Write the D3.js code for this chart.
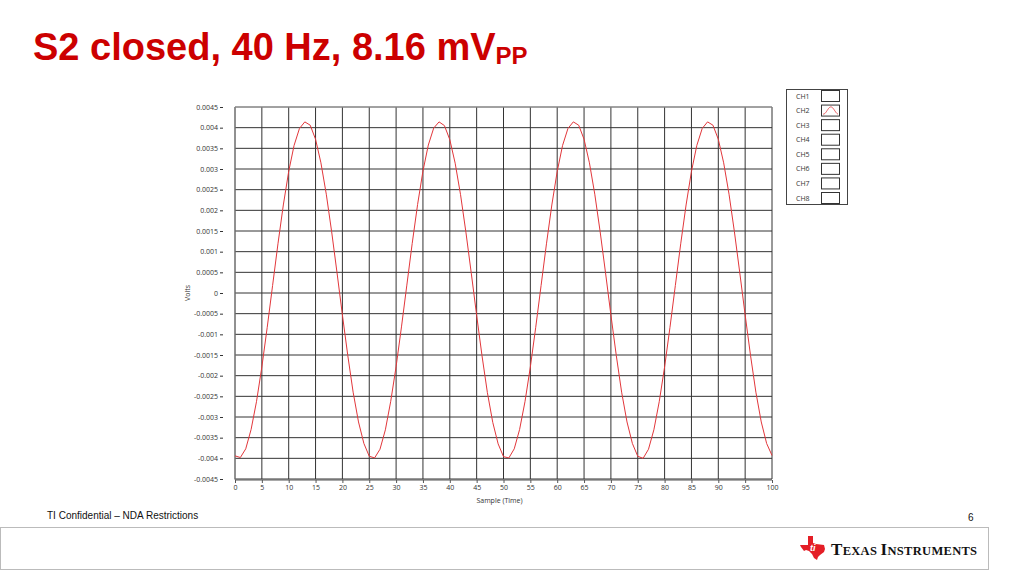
<!DOCTYPE html>
<html><head><meta charset="utf-8">
<script src="https://cdn.jsdelivr.net/npm/d3@7/dist/d3.min.js"></script>
<style>
html,body{margin:0;padding:0;background:#fff;}
svg{display:block;}
</style></head>
<body>
<svg id="c" width="1024" height="576"></svg>
<script>
// ---- data ----
const samples = d3.range(0, 101);
const ch2Volts = [
 -0.00394,-0.00398,-0.00377,-0.00330,-0.00263,-0.00179,-0.00083,0.00018,0.00119,0.00213,
  0.00294,0.00357,0.00398,0.00414,0.00406,0.00372,0.00315,0.00239,0.00148,0.00049,
 -0.00053,-0.00151,-0.00240,-0.00312,-0.00364,
 -0.00395,-0.00399,-0.00378,-0.00331,-0.00262,-0.00178,-0.00082,0.00019,0.00120,0.00214,
  0.00295,0.00358,0.00399,0.00414,0.00405,0.00371,0.00314,0.00238,0.00147,0.00048,
 -0.00054,-0.00152,-0.00241,-0.00313,-0.00365,
 -0.00396,-0.00399,-0.00377,-0.00330,-0.00263,-0.00179,-0.00083,0.00018,0.00119,0.00213,
  0.00294,0.00357,0.00398,0.00414,0.00406,0.00372,0.00315,0.00239,0.00148,0.00049,
 -0.00053,-0.00151,-0.00240,-0.00312,-0.00364,
 -0.00395,-0.00400,-0.00378,-0.00331,-0.00263,-0.00179,-0.00083,0.00018,0.00119,0.00213,
  0.00294,0.00357,0.00398,0.00414,0.00406,0.00372,0.00315,0.00239,0.00148,0.00049,
 -0.00053,-0.00151,-0.00240,-0.00312,-0.00364,
 -0.00393
];
const yTicks = [0.0045,0.004,0.0035,0.003,0.0025,0.002,0.0015,0.001,0.0005,0,-0.0005,-0.001,-0.0015,-0.002,-0.0025,-0.003,-0.0035,-0.004,-0.0045];
const yTickLabels = ["0.0045","0.004","0.0035","0.003","0.0025","0.002","0.0015","0.001","0.0005","0","-0.0005","-0.001","-0.0015","-0.002","-0.0025","-0.003","-0.0035","-0.004","-0.0045"];
const xTicks = d3.range(0, 101, 5);
const legendChannels = ["CH1","CH2","CH3","CH4","CH5","CH6","CH7","CH8"];
const activeChannel = "CH2";

// ---- drawing ----
const svg = d3.select("#c");
const L = 235, R = 772, T = 107, B = 479;
const x = d3.scaleLinear().domain([0, 100]).range([L, R]);
const y = d3.scaleLinear().domain([-0.0045, 0.0045]).range([B, T]);
const font = "'Open Sans', 'Noto Sans', sans-serif";

// title
const title = svg.append("text").attr("x", 33).attr("y", 60)
  .attr("font-family", "'Liberation Sans', Arial, sans-serif").attr("font-weight", "bold")
  .attr("font-size", 38).attr("fill", "#cc0000");
title.append("tspan").text("S2 closed, 40 Hz, 8.16 mV");
title.append("tspan").attr("font-size", 24).attr("dy", 4).text("PP");

// grid
const grid = svg.append("g");
grid.selectAll("line.h").data(yTicks).join("line").attr("class","h")
  .attr("x1", L).attr("x2", R).attr("y1", d => y(d)).attr("y2", d => y(d))
  .attr("stroke", "#333").attr("stroke-width", 1);
grid.selectAll("line.v").data(xTicks).join("line").attr("class","v")
  .attr("y1", T).attr("y2", B).attr("x1", d => x(d)).attr("x2", d => x(d))
  .attr("stroke", "#333").attr("stroke-width", 1);
// frame edges lighter
svg.append("line").attr("x1", L).attr("x2", R).attr("y1", T).attr("y2", T).attr("stroke", "#aaa");
svg.append("line").attr("x1", L).attr("x2", L).attr("y1", T).attr("y2", B+1).attr("stroke", "#888");
svg.append("line").attr("x1", L).attr("x2", R).attr("y1", B+1).attr("y2", B+1).attr("stroke", "#555");

// y axis labels via d3 axis
const yAxis = d3.axisLeft(y).tickValues(yTicks).tickFormat((d, i) => yTickLabels[i]).tickSize(3).tickPadding(2);
const gy = svg.append("g").attr("transform", `translate(${L-12},0)`).call(yAxis);
gy.select(".domain").remove();
gy.selectAll("text").attr("font-family", font).attr("font-size", 7).attr("fill", "#333");
gy.selectAll("line").attr("stroke", "#333");

const xAxis = d3.axisBottom(x).tickValues(xTicks).tickSize(3).tickPadding(2);
const gx = svg.append("g").attr("transform", `translate(0,${B+1})`).call(xAxis);
gx.select(".domain").remove();
gx.selectAll("text").attr("font-family", font).attr("font-size", 7).attr("fill", "#333");
gx.selectAll("line").attr("stroke", "#555");

// axis titles
svg.append("text").attr("transform", `translate(190,${y(0)}) rotate(-90)`).attr("text-anchor","middle")
  .attr("font-family", font).attr("font-size", 7).attr("fill", "#333").text("Volts");
svg.append("text").attr("x", x(50)-4).attr("y", 503).attr("text-anchor","middle")
  .attr("font-family", font).attr("font-size", 7).attr("fill", "#333").text("Sample (Time)");

// data line
const line = d3.line().x((d, i) => x(samples[i])).y(d => y(d));
svg.append("path").datum(ch2Volts).attr("d", line).attr("fill", "none")
  .attr("stroke", "#e2373b").attr("stroke-width", 1);

// legend
const lg = svg.append("g");
lg.append("rect").attr("x", 786.5).attr("y", 89.5).attr("width", 61).attr("height", 115)
  .attr("fill", "#fff").attr("stroke", "#444");
const ly = d3.scalePoint().domain(legendChannels).range([96, 198]);
legendChannels.forEach(ch => {
  lg.append("text").attr("x", 796).attr("y", ly(ch) + 2.5).attr("font-family", font)
    .attr("font-size", 7).attr("fill", "#333").text(ch);
  lg.append("rect").attr("x", 821.5).attr("y", ly(ch) - 5.5).attr("width", 18).attr("height", 11)
    .attr("fill", "#fff").attr("stroke", "#333");
  if (ch === activeChannel) {
    const sx = d3.scaleLinear().domain([0, 25]).range([823, 838]);
    const sy = d3.scaleLinear().domain([-0.0045, 0.0045]).range([ly(ch)+4, ly(ch)-4]);
    lg.append("path").datum(ch2Volts.slice(0, 26))
      .attr("d", d3.line().x((d, i) => sx(i)).y(d => sy(d)))
      .attr("fill", "none").attr("stroke", "#e2373b").attr("stroke-width", 0.8);
  }
});

// footer
svg.append("text").attr("x", 47).attr("y", 519).attr("font-family", "'Liberation Sans', Arial, sans-serif")
  .attr("font-size", 10).attr("fill", "#111").text("TI Confidential – NDA Restrictions");
svg.append("text").attr("x", 968).attr("y", 521).attr("font-family", "'Liberation Sans', Arial, sans-serif")
  .attr("font-size", 10).attr("fill", "#111").text("6");
svg.append("rect").attr("x", 0.5).attr("y", 527.5).attr("width", 988).attr("height", 42)
  .attr("fill", "none").attr("stroke", "#bbb");

// TI logo
const logo = svg.append("g").attr("transform", "translate(800,536)");
logo.append("path").attr("d",
  "M8,0 L13,0 L13,7 L16,8 L20,8.5 L24,9 L25,13 L24,16 L20,19 L18,21 L17,24 L14,22 L12,18 L9,15 L6,14 L4,15 L1,11 L0,9 L8,9 Z")
  .attr("fill", "#e41e26");
logo.append("text").attr("x", 10).attr("y", 15).attr("font-family", "'Liberation Sans', Arial, sans-serif")
  .attr("font-weight", "bold").attr("font-style", "italic").attr("font-size", 9).attr("fill", "#fff").text("ti");
const wm = svg.append("text").attr("x", 831).attr("y", 555).attr("font-family", "'Liberation Serif', 'Times New Roman', serif")
  .attr("font-weight", "bold").attr("fill", "#111").attr("letter-spacing", 0.3);
wm.append("tspan").attr("font-size", 17).text("T");
wm.append("tspan").attr("font-size", 12.5).text("EXAS ");
wm.append("tspan").attr("font-size", 17).text("I");
wm.append("tspan").attr("font-size", 12.5).text("NSTRUMENTS");
</script>
</body></html>
